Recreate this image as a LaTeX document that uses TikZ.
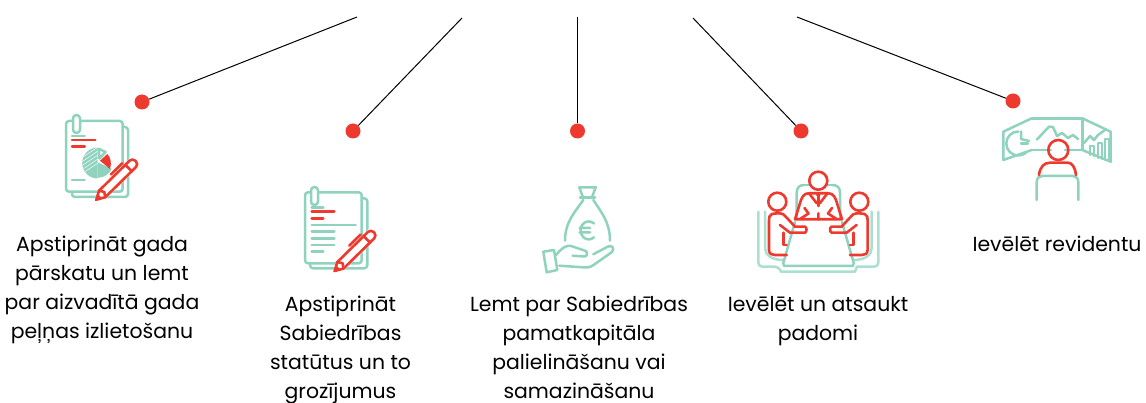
\documentclass[tikz,border=0pt]{standalone}
\usepackage{fontspec}
\setmainfont{Poppins}
\definecolor{tl}{HTML}{8FD3BF}
\definecolor{tlp}{HTML}{ABDFD0}
\definecolor{rd}{HTML}{EE3A2E}
\tikzset{
 dotn/.style={circle,fill=rd,draw=none,minimum size=15pt,inner sep=0pt},
 conn/.style={draw=black,line width=1pt},
 lab/.style={align=center,font=\fontsize{20.4}{29}\selectfont,inner sep=0pt,anchor=north},
 t/.style={draw=tl,line width=2.5pt,line cap=round,line join=round},
 tp/.style={draw=tlp,line width=2.5pt,line cap=round,line join=round},
 r/.style={draw=rd,line width=2.6pt,line cap=round,line join=round},
}
\newcommand{\penicon}[2]{%
 \begin{scope}[shift={(#1,#2)},rotate=44.5]
  \fill[white] (0,0) -- (10,-6) -- (56,-6) -- (56,6) -- (10,6) -- cycle;
  \fill[rd] (0,0) -- (7,-3.8) -- (7,3.8) -- cycle;
  \path[r] (2,0) -- (10,-4.5) [rounded corners=4pt] -- (57,-4.5) -- (57,4.5) [sharp corners] -- (10,4.5) -- cycle;
  \path[r] (10,-4.5) -- (13,0) -- (10,4.5);
  \path[r] (47,-4.5) -- (47,4.5);
  \path[r] (30,-7.8) -- (46,-7.8);
 \end{scope}}
\begin{document}
\begin{tikzpicture}[x=1pt,y=-1pt]
\useasboundingbox (0,0) rectangle (1146,403);
% connectors
\coordinate (c1) at (357,17);
\coordinate (c2) at (462,18);
\coordinate (c3) at (577.5,17);
\coordinate (c4) at (693,18);
\coordinate (c5) at (797,17);
\node[dotn] (d1) at (142,102) {};
\node[dotn] (d2) at (353,131) {};
\node[dotn] (d3) at (577.5,131) {};
\node[dotn] (d4) at (801,131) {};
\node[dotn] (d5) at (1013,101) {};
\draw[conn] (c1) -- (d1);
\draw[conn] (c2) -- (d2);
\draw[conn] (c3) -- (d3);
\draw[conn] (c4) -- (d4);
\draw[conn] (c5) -- (d5);
% labels
\node[lab] (l1) at (102,236) {Apstiprināt gada\\pārskatu un lemt\\par aizvadītā gada\\peļņas izlietošanu};
\node[lab] (l2) at (340.5,296) {Apstiprināt\\Sabiedrības\\statūtus un to\\grozījumus};
\node[lab] (l3) at (579,296) {Lemt par Sabiedrības\\pamatkapitāla\\palielināšanu vai\\samazināšanu};
\node[lab] (l4) at (818,296) {Ievēlēt un atsaukt\\padomi};
\node[lab] (l5) at (1057,236) {Ievēlēt revidentu};
% icon 1
\path[t,rounded corners=3pt] (118,127) -- (128,127) -- (128,197) -- (72,197) -- (72,190);
\path[t,fill=white,rounded corners=3pt] (66,121) rectangle (122.7,191.7);
\path[t,fill=white,rounded corners=3.4pt] (73,115) rectangle (80,133);
\path[t] (72,136) -- (84.7,136);
\path[r] (72,140) -- (95.3,140);
\path[r] (72,146.7) -- (84.7,146.7);
\path[t] (72,180) -- (84.7,180);
\fill[tl] (97.7,162.3) -- (97.7,147.5) arc (-90:-270:15.5) -- cycle;
\fill[tl] (97.7,162.3) -- (97.7,177.8) arc (90:25:15.5) -- cycle;
\begin{scope}
\clip (97.7,162.3) circle (15.5);
\foreach \k in {-8,-4,0,4,8}{\draw[white,line width=.5pt] (80,167+\k) -- (98,155+\k);}
\end{scope}
\path[t] (98.8,148.8) -- (105.5,152) -- (99.5,158.5) -- cycle;
\fill[rd] (100,160.7) -- (107.3,154) .. controls (110.5,157) and (112,163) .. (110,169) -- cycle;
\penicon{95}{201}
% icon 2
\path[t,rounded corners=3pt] (355,198.3) -- (367.3,198.3) -- (367.3,268.3) -- (310,268.3) -- (310,262);
\path[t,fill=white,rounded corners=3pt] (305,192.3) rectangle (361.7,263.3);
\path[t,fill=white,rounded corners=3.4pt] (311,187) rectangle (318,205);
\path[t] (311.7,207.3) -- (323.3,207.3);
\path[r] (311.7,211.7) -- (334.3,211.7);
\path[r] (311.7,218.3) -- (323.3,218.3);
\path[t] (311.7,225) -- (355.7,225);
\path[t] (311.7,231.7) -- (334.3,231.7);
\path[t] (311.7,238.3) -- (334.3,238.3);
\path[t] (311.7,245) -- (334.3,245);
\path[t] (311.7,251.7) -- (323.3,251.7);
\penicon{333.3}{272.3}
% icon 3
\path[t] (579.3,187.3) -- (595.7,187.3) -- (592,197.3) (579.3,187.3) -- (583,197.3);
\path[t] (580,197.3) -- (595,197.3);
\path[t] (583.3,200) .. controls (575,212) and (565,222) .. (565,240.7);
\path[t] (593.3,200) .. controls (601,212) and (610,222) .. (610,240.7);
\path[t] (594,223.5) arc (-50:-310:8.2 and 9) (579.5,228) -- (590,228) (579.5,232.5) -- (590,232.5);
\path[t] (543.3,251.7) -- (554,250) -- (557.3,270) -- (546.7,272.3) -- cycle;
\path[t] (556,255) .. controls (562,248) and (566,245) .. (571,246) -- (586,251) .. controls (588,253) and (587,257) .. (584,256.5) -- (572.7,255.7);
\path[t] (559.3,265.7) -- (586,267.5) .. controls (590,267.5) and (592,266) .. (595,264) -- (612,252) .. controls (615,248) and (612,245) .. (608,246.5) -- (593.3,254.3);
% icon 4
\path[tp,rounded corners=4pt] (758.3,211.7) -- (758.3,266.7) -- (779,266.7) [sharp corners] -- (781,271.7) -- (855,271.7) -- (857,266.7) [rounded corners=4pt] -- (878.3,266.7) -- (878.3,211.7);
\path[tp] (765,211.7) -- (765,248) .. controls (765,255) and (772,260) .. (783,260);
\path[tp] (871.7,211.7) -- (871.7,248) .. controls (871.7,255) and (865,260) .. (853.7,260);
\path[t] (796.7,218) -- (796.7,193) .. controls (796.7,187) and (800,185) .. (804,185);
\path[t] (804,185) -- (832,185);
\path[t] (840,218) -- (840,193) .. controls (840,187) and (837,185) .. (832,185);
\path[t] (795,222) -- (783.3,263) -- (784,266) -- (853,266) -- (853.7,263) -- (842,222);
\path[r,fill=white] (818.3,180.7) circle (9);
\path[r] (795,219.3) -- (801,200) .. controls (803,195) and (805,193.5) .. (809,193.3) -- (828,193.3) .. controls (832,193.5) and (834,195) .. (836,200) -- (842,219.3) -- cycle;
\path[r] (809,193.3) -- (816.5,203) -- (818.3,201) -- (820,203) -- (827.5,193.3);
\path[r] (817,195) -- (819.5,195) (818.3,195) -- (818.3,206);
\path[r] (804.5,208) -- (808.5,213.5) -- (800,219) (832,208) -- (828,213.5) -- (836.5,219) (818.3,213.3) -- (818.3,219.3);
\foreach \xs/\xo in {1/0,-1/1636.6}{
\begin{scope}[shift={(\xo,0)},xscale=\xs]
\path[r] (777.3,201.7) circle (9);
\path[r] (776.7,213.3) -- (772,214) .. controls (769,215) and (769,218) .. (769,220) -- (769,250) .. controls (769,254) and (772,255) .. (775,255) -- (786.7,255);
\path[r] (776.7,213.3) .. controls (783,213) and (785,215) .. (787,218) -- (795,226.7) -- (805,226.7) .. controls (807,227) and (807,232) .. (805,232.7) -- (790,232.7) -- (780,225);
\path[r] (783.3,232.7) -- (783.3,245) -- (786.7,245);
\end{scope}}
% icon 5
\path[t] (1031.7,118.3) -- (1082.3,118.3) -- (1082.3,150) -- (1065,150) (1051,150) -- (1031.7,150) -- cycle;
\path[t] (1031.7,118.3) -- (1003.3,131.7) -- (1003.3,160) -- (1031.7,150);
\path[t] (1082.3,118.3) -- (1110.7,131.7) -- (1110.7,161.7) -- (1082.3,150);
\path[t] (1018.3,131.5) arc (-90:-310:12);
\path[t] (1021,131.5) -- (1021,139) -- (1029,141);
\path[t] (1021,143.5) -- (1028,143.5);
\path[t] (1037,139.5) -- (1043,133) -- (1049,126.7) -- (1053,127) -- (1057,136) -- (1062,133) -- (1068,138) -- (1073,135) -- (1078,139);
\path[t] (1084,143) -- (1090,136) -- (1094,140) -- (1098,135) -- (1105,130);
\path[t] (1090,155) -- (1090,146) -- (1094,146) -- (1094,156);
\path[t] (1098,158) -- (1098,143) -- (1102,143) -- (1102,159);
\path[t] (1105,160) -- (1105,139) -- (1109,139) -- (1109,161);
\path[t] (1036.7,200) -- (1036.7,182) .. controls (1037,178) and (1039,176) .. (1042,176) -- (1073,176) .. controls (1076,176) and (1078,178) .. (1078.3,182) -- (1078.3,200);
\path[r] (1058.3,150) circle (10);
\path[r] (1039,175) .. controls (1040,167) and (1044,162.7) .. (1050,162.7) -- (1068,162.7) .. controls (1072,162.7) and (1075,167) .. (1076,175);
\end{tikzpicture}
\end{document}
